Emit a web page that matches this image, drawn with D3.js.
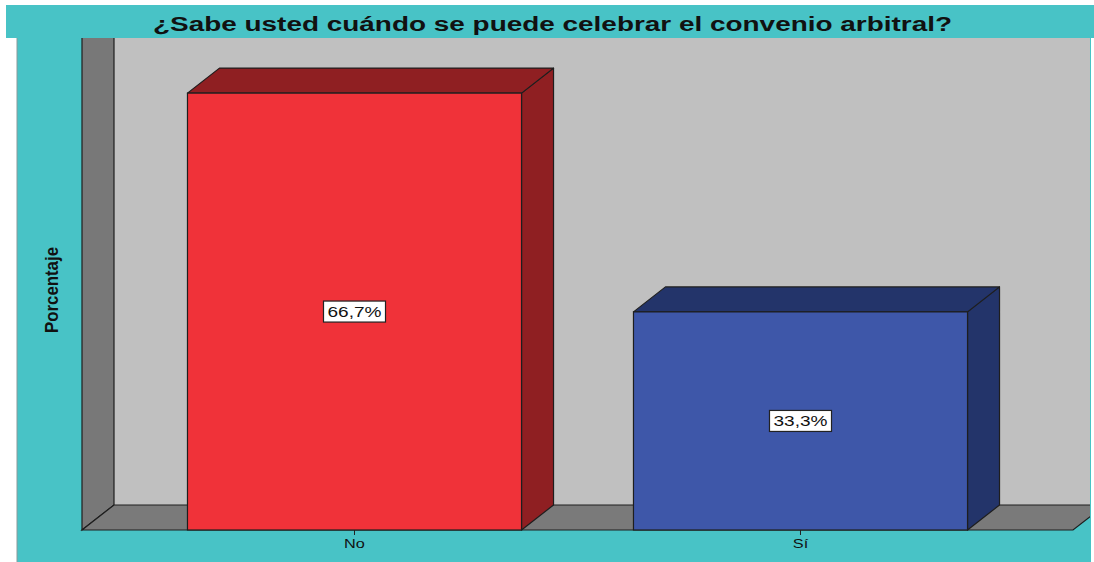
<!DOCTYPE html>
<html>
<head>
<meta charset="utf-8">
<script src="https://cdn.jsdelivr.net/npm/d3@7"></script>
<style>
  html, body { margin: 0; padding: 0; background: #ffffff; }
  svg { display: block; }
</style>
</head>
<body>
<svg id="chart" width="1094" height="562"></svg>
<script>
// Data
const titleText = "¿Sabe usted cuándo se puede celebrar el convenio arbitral?";
const categories = ["No", "Sí"];
const percentages = [66.7, 33.3];
const valueLabels = ["66,7%", "33,3%"];
const yAxisTitle = "Porcentaje";
const barFronts = ["#f03239", "#3e57a9"];
const barShades = ["#8f1f22", "#23346a"];

const W = 1094, H = 562;
const stretch = 1.36;   // horizontal stretch of the chart's lettering
const svg = d3.select("#chart");

// Layout of the 3D box
const depthX = 32, depthY = -25;           // oblique depth offset
const floorLeft = 82, floorRight = 1073;   // front edge of floor
const floorY = 530;                         // front baseline
const frame = { x: 17, y: 38, right: 1091, bottom: 562 };

const x = d3.scaleBand()
  .domain(categories)
  .range([floorLeft, floorRight])
  .paddingInner(0.251)
  .paddingOuter(0.2365);

const y = d3.scaleLinear()
  .domain([0, 80])
  .range([floorY, floorY - 80 * 6.55]);

// Teal title band and frame
svg.append("rect").attr("x", 6).attr("y", 5).attr("width", W - 6).attr("height", 33)
  .attr("fill", "#48c3c6");
svg.append("rect").attr("x", frame.x).attr("y", frame.y)
  .attr("width", frame.right - frame.x).attr("height", frame.bottom - frame.y)
  .attr("fill", "#48c3c6");
svg.append("line").attr("x1", frame.x).attr("x2", frame.x).attr("y1", frame.y).attr("y2", H)
  .attr("stroke", "#8a9a9a").attr("stroke-width", 1);

svg.append("text")
  .attr("x", 153).attr("y", 31)
  .attr("textLength", 799)
  .attr("lengthAdjust", "spacingAndGlyphs")
  .attr("font-family", "'Liberation Sans', Arial, sans-serif")
  .attr("font-weight", "bold")
  .attr("font-size", 20)
  .attr("fill", "#111")
  .text(titleText);

// Clip for the 3D plot area
svg.append("clipPath").attr("id", "plotClip")
  .append("rect").attr("x", 0).attr("y", frame.y).attr("width", 1090).attr("height", H - frame.y);

const plot = svg.append("g").attr("clip-path", "url(#plotClip)");

const edge = "#1e1e1e";
const poly = (pts) => pts.map(p => p.join(",")).join(" ");

// Back wall
const backLeft = floorLeft + depthX, backY = floorY + depthY;
plot.append("rect")
  .attr("x", backLeft).attr("y", 0)
  .attr("width", W - backLeft).attr("height", backY)
  .attr("fill", "#c0c0c0");

// Left wall
const wallTop = y(80);
plot.append("polygon")
  .attr("points", poly([[floorLeft, floorY], [floorLeft, wallTop], [backLeft, wallTop + depthY], [backLeft, backY]]))
  .attr("fill", "#787878").attr("stroke", edge).attr("stroke-width", 1.2);

// Floor
plot.append("polygon")
  .attr("points", poly([[floorLeft, floorY], [floorRight, floorY], [floorRight + depthX, backY], [backLeft, backY]]))
  .attr("fill", "#7a7a7a").attr("stroke", edge).attr("stroke-width", 1.2);

// Bars
const bars = plot.selectAll("g.bar")
  .data(categories.map((c, i) => ({ c, v: percentages[i], label: valueLabels[i], i })))
  .join("g").attr("class", "bar");

bars.each(function (d) {
  const g = d3.select(this);
  const x0 = x(d.c), x1 = x0 + x.bandwidth();
  const yt = y(d.v), yb = y(0);
  // side face
  g.append("polygon")
    .attr("points", poly([[x1, yb], [x1, yt], [x1 + depthX, yt + depthY], [x1 + depthX, yb + depthY]]))
    .attr("fill", barShades[d.i]).attr("stroke", edge).attr("stroke-width", 1.2).attr("stroke-linejoin", "round");
  // top face
  g.append("polygon")
    .attr("points", poly([[x0, yt], [x1, yt], [x1 + depthX, yt + depthY], [x0 + depthX, yt + depthY]]))
    .attr("fill", barShades[d.i]).attr("stroke", edge).attr("stroke-width", 1.2).attr("stroke-linejoin", "round");
  // front face
  g.append("rect")
    .attr("x", x0).attr("y", yt).attr("width", x1 - x0).attr("height", yb - yt)
    .attr("fill", barFronts[d.i]).attr("stroke", edge).attr("stroke-width", 1.2);
});

// Value labels
const labels = svg.selectAll("g.vlabel")
  .data(categories.map((c, i) => ({ c, v: percentages[i], label: valueLabels[i] })))
  .join("g").attr("class", "vlabel")
  .attr("transform", d => `translate(${x(d.c) + x.bandwidth() / 2},${(y(d.v) + y(0)) / 2})`);

labels.append("rect")
  .attr("x", -31).attr("y", -10.5).attr("width", 62).attr("height", 21)
  .attr("fill", "#ffffff").attr("stroke", "#222").attr("stroke-width", 1.2);
labels.append("text")
  .attr("transform", `scale(${stretch},1)`)
  .attr("text-anchor", "middle").attr("dy", "0.36em")
  .attr("font-family", "'Liberation Sans', Arial, sans-serif")
  .attr("font-size", 14)
  .attr("fill", "#111")
  .text(d => d.label);

// Category axis
const xAxis = svg.append("g")
  .attr("transform", `translate(0,${floorY})`)
  .call(d3.axisBottom(x).tickSize(5).tickPadding(4));
xAxis.select(".domain").remove();
xAxis.selectAll(".tick line").attr("stroke", "#222");
xAxis.selectAll("text")
  .attr("transform", `scale(${stretch},1)`)
  .attr("font-family", "'Liberation Sans', Arial, sans-serif")
  .attr("font-size", 12)
  .attr("fill", "#111");

// Y axis title (condensed)
svg.append("text")
  .attr("transform", `translate(58,290) rotate(-90)`)
  .attr("text-anchor", "middle")
  .attr("textLength", 86)
  .attr("lengthAdjust", "spacingAndGlyphs")
  .attr("font-family", "'Liberation Sans Narrow', 'Arial Narrow', 'Liberation Sans', sans-serif")
  .attr("font-weight", "bold")
  .attr("font-size", 19)
  .attr("fill", "#111")
  .text(yAxisTitle);
</script>
</body>
</html>
